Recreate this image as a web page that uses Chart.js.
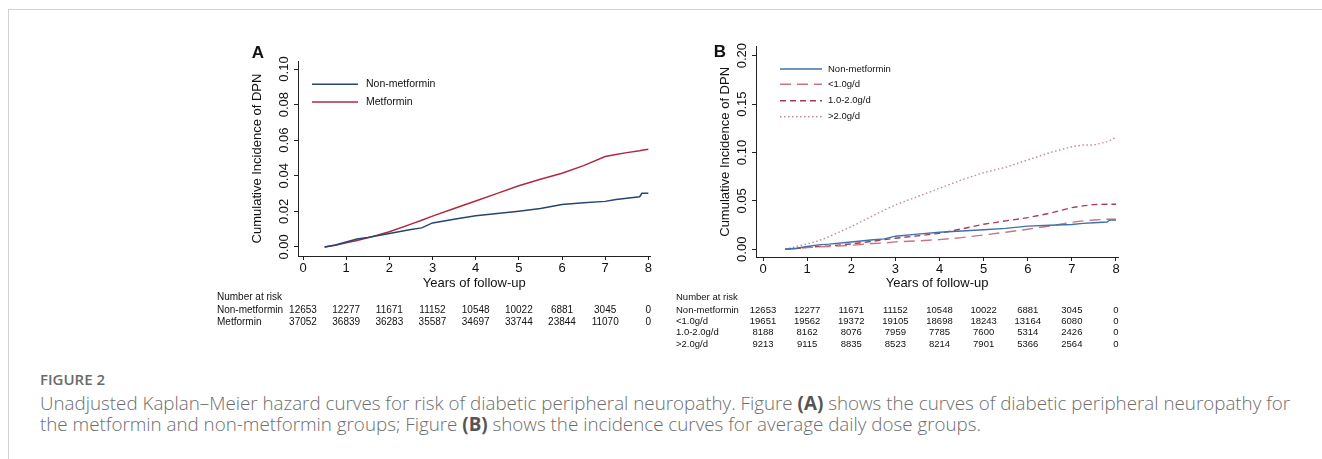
<!DOCTYPE html>
<html>
<head>
<meta charset="utf-8">
<script src="https://cdn.jsdelivr.net/npm/chart.js@4.4.1/dist/chart.umd.min.js"></script>
<style>
  body { margin: 0; background: #fff; width: 1322px; height: 459px; overflow: hidden; position: relative; }
  #frame { position: absolute; left: 8px; top: 9px; width: 1330px; height: 500px; border-left: 1px solid #d2d2d2; border-top: 1px solid #d2d2d2; }
  #panelA { position: absolute; left: 205px; top: 38px; }
  #panelB { position: absolute; left: 665px; top: 38px; }
  #figLabel { position: absolute; left: 40px; top: 370px; font: 600 15px "Open Sans", sans-serif; color: #6a6a6a; line-height: 18px; }
  #caption { position: absolute; left: 40px; top: 393px; font: 300 18.8px "Open Sans", sans-serif; color: #6d6d6d; line-height: 21px; white-space: nowrap; }
  #caption b { color: #555; font-weight: 700; }
</style>
</head>
<body>
<div id="frame"></div>
<canvas id="panelA" width="460" height="300"></canvas>
<canvas id="panelB" width="465" height="315"></canvas>
<div id="figLabel">FIGURE 2</div>
<div id="caption">Unadjusted Kaplan–Meier hazard curves for risk of diabetic peripheral neuropathy. Figure <b>(A)</b> shows the curves of diabetic peripheral neuropathy for<br>the metformin and non-metformin groups; Figure <b>(B)</b> shows the incidence curves for average daily dose groups.</div>
<script>
// follow-up time grid (years) shared by all curves
const timeYears = [0.5, 0.75, 1, 1.25, 1.5, 2, 2.5, 2.75, 3, 3.5, 4, 4.5, 5, 5.5, 6, 6.5, 7, 7.25, 7.5, 7.8, 7.85, 8];

// cumulative incidence
const nonMetformin = [0, 0.0011, 0.0028, 0.0045, 0.0053, 0.0075, 0.0098, 0.0107, 0.0135, 0.0156, 0.0175, 0.0188, 0.0201, 0.0216, 0.0239, 0.0248, 0.0256, 0.0267, 0.0274, 0.0282, 0.0301, 0.0301];
const metformin = [0, 0.0009, 0.0024, 0.0036, 0.0051, 0.0085, 0.0128, 0.015, 0.0173, 0.0216, 0.0258, 0.0301, 0.0344, 0.038, 0.0414, 0.0457, 0.0508, 0.052, 0.053, 0.054, 0.0543, 0.0549];
const doseLow = [0, 0.0007, 0.0017, 0.0024, 0.0028, 0.0041, 0.0059, 0.0065, 0.0076, 0.0086, 0.01, 0.012, 0.0148, 0.0176, 0.0207, 0.0241, 0.0279, 0.0293, 0.0303, 0.031, 0.031, 0.031];
const doseMid = [0, 0.0007, 0.0021, 0.0028, 0.0034, 0.0055, 0.0083, 0.01, 0.0114, 0.0138, 0.0165, 0.021, 0.0258, 0.0293, 0.0327, 0.0372, 0.043, 0.0448, 0.0461, 0.0465, 0.0465, 0.0465];
const doseHigh = [0, 0.0028, 0.0055, 0.0086, 0.0131, 0.0234, 0.0348, 0.0406, 0.0458, 0.0544, 0.063, 0.0716, 0.0792, 0.0847, 0.0923, 0.0998, 0.106, 0.1077, 0.1077, 0.1112, 0.1122, 0.1157];

const xTickValues = [0, 1, 2, 3, 4, 5, 6, 7, 8];
const yTicksA = [0, 0.02, 0.04, 0.06, 0.08, 0.10];
const yTicksB = [0, 0.05, 0.10, 0.15, 0.20];

// number at risk, one value per x tick
const riskNonMetformin = [12653, 12277, 11671, 11152, 10548, 10022, 6881, 3045, 0];
const riskMetformin = [37052, 36839, 36283, 35587, 34697, 33744, 23844, 11070, 0];
const riskLow = [19651, 19562, 19372, 19105, 18698, 18243, 13164, 6080, 0];
const riskMid = [8188, 8162, 8076, 7959, 7785, 7600, 5314, 2426, 0];
const riskHigh = [9213, 9115, 8835, 8523, 8214, 7901, 5366, 2564, 0];

const AXIS_COLOR = "#222";
const TEXT_COLOR = "#111";

function toPoints(values) {
  return timeYears.map((t, i) => ({ x: t, y: values[i] }));
}

function makeLine(label, values, color, dash, width) {
  return {
    label: label,
    data: toPoints(values),
    borderColor: color,
    borderDash: dash,
    borderWidth: width,
    pointRadius: 0,
    tension: 0,
    fill: false,
  };
}

// draws panel letter, rotated y labels, titles, inner legend and risk table
const kmDecor = {
  id: "kmDecor",
  afterDraw(chart, args, opts) {
    const ctx = chart.ctx;
    const xs = chart.scales.x;
    const ys = chart.scales.y;
    const area = chart.chartArea;
    ctx.save();
    ctx.fillStyle = TEXT_COLOR;
    ctx.textAlign = "center";
    ctx.textBaseline = "middle";

    ctx.font = "bold 17px Arial, 'Liberation Sans', sans-serif";
    ctx.fillText(opts.letter, opts.letterX, opts.letterY);

    ctx.font = opts.axisFont;
    opts.yTicks.forEach((v) => {
      ctx.save();
      ctx.translate(opts.yTickX, ys.getPixelForValue(v));
      ctx.rotate(-Math.PI / 2);
      ctx.fillText(v.toFixed(2), 0, 0);
      ctx.restore();
    });

    ctx.save();
    ctx.translate(opts.yTitleX, (area.top + area.bottom) / 2);
    ctx.rotate(-Math.PI / 2);
    ctx.fillText("Cumulative Incidence of DPN", 0, 0);
    ctx.restore();

    ctx.fillText("Years of follow-up", (area.left + area.right) / 2, opts.xTitleY);

    // legend inside the plot
    ctx.font = opts.legendFont;
    ctx.textAlign = "left";
    chart.data.datasets.forEach((ds, i) => {
      const y = opts.legendY[i];
      ctx.save();
      ctx.strokeStyle = ds.borderColor;
      ctx.lineWidth = ds.borderWidth;
      ctx.setLineDash(ds.borderDash || []);
      ctx.beginPath();
      ctx.moveTo(opts.legendX0, y);
      ctx.lineTo(opts.legendX1, y);
      ctx.stroke();
      ctx.restore();
      ctx.fillText(ds.label, opts.legendTextX, y);
    });

    // number at risk
    ctx.font = opts.riskFont;
    ctx.fillText("Number at risk", opts.riskLabelX, opts.riskTitleY);
    opts.riskRows.forEach((row, r) => {
      const y = opts.riskY[r];
      ctx.textAlign = "left";
      ctx.fillText(row.label, opts.riskLabelX, y);
      ctx.textAlign = "center";
      row.values.forEach((n, i) => {
        ctx.fillText(String(n), xs.getPixelForValue(xTickValues[i]), y);
      });
    });
    ctx.restore();
  },
};

function kmChart(canvasId, datasets, cfg) {
  const axisGrid = { drawOnChartArea: false, drawTicks: true, tickLength: 4, color: AXIS_COLOR, lineWidth: 1 };
  return new Chart(document.getElementById(canvasId), {
    type: "line",
    data: { datasets: datasets },
    options: {
      responsive: false,
      animation: false,
      layout: { padding: { left: 0, top: cfg.padTop, right: cfg.padRight, bottom: 0 } },
      plugins: { legend: { display: false }, tooltip: { enabled: false }, kmDecor: cfg.decor },
      scales: {
        x: {
          type: "linear",
          min: cfg.xMin,
          max: cfg.xMax,
          afterBuildTicks: (s) => { s.ticks = xTickValues.map((v) => ({ value: v })); },
          afterFit: (s) => { s.height = cfg.xHeight; },
          grid: axisGrid,
          border: { color: AXIS_COLOR, width: 1 },
          ticks: { color: TEXT_COLOR, font: { size: 13, family: "Arial, 'Liberation Sans', sans-serif" }, padding: 1, maxRotation: 0 },
        },
        y: {
          type: "linear",
          min: cfg.yMin,
          max: cfg.yMax,
          afterBuildTicks: (s) => { s.ticks = cfg.yTicks.map((v) => ({ value: v })); },
          afterFit: (s) => { s.width = cfg.yWidth; },
          grid: axisGrid,
          border: { color: AXIS_COLOR, width: 1 },
          ticks: { display: false },
        },
      },
    },
    plugins: [kmDecor],
  });
}

kmChart("panelA", [
  makeLine("Non-metformin", nonMetformin, "#24466f", [], 1.5),
  makeLine("Metformin", metformin, "#b02a3f", [], 1.5),
], {
  xMin: -0.116, xMax: 8.05, yMin: -0.0051, yMax: 0.1045,
  yTicks: yTicksA, padTop: 23, padRight: 14.5, yWidth: 93, xHeight: 82,
  decor: {
    letter: "A", letterX: 53, letterY: 15,
    yTicks: yTicksA, yTickX: 79, yTitleX: 52, xTitleY: 245,
    axisFont: "13px Arial, 'Liberation Sans', sans-serif",
    legendFont: "10.5px Arial, 'Liberation Sans', sans-serif",
    legendX0: 107, legendX1: 153, legendTextX: 161, legendY: [46.3, 64],
    riskFont: "10px Arial, 'Liberation Sans', sans-serif",
    riskLabelX: 12, riskTitleY: 259.3, riskY: [272.7, 284.7],
    riskRows: [
      { label: "Non-metformin", values: riskNonMetformin },
      { label: "Metformin", values: riskMetformin },
    ],
  },
});

kmChart("panelB", [
  makeLine("Non-metformin", nonMetformin, "#3f72a6", [], 1.4),
  makeLine("<1.0g/d", doseLow, "#c97483", [11, 6], 1.4),
  makeLine("1.0-2.0g/d", doseMid, "#a63c56", [6, 4], 1.4),
  makeLine(">2.0g/d", doseHigh, "#bf8d9c", [1.5, 2.5], 1.4),
], {
  xMin: -0.159, xMax: 8.05, yMin: -0.008, yMax: 0.2093,
  yTicks: yTicksB, padTop: 8.7, padRight: 11.8, yWidth: 91, xHeight: 96,
  decor: {
    letter: "B", letterX: 55, letterY: 14.7,
    yTicks: yTicksB, yTickX: 77.7, yTitleX: 60, xTitleY: 245,
    axisFont: "13px Arial, 'Liberation Sans', sans-serif",
    legendFont: "9.5px Arial, 'Liberation Sans', sans-serif",
    legendX0: 115, legendX1: 157, legendTextX: 163, legendY: [31, 46.3, 62.7, 78.7],
    riskFont: "9.5px Arial, 'Liberation Sans', sans-serif",
    riskLabelX: 11, riskTitleY: 259.3, riskY: [272, 283, 294.3, 306],
    riskRows: [
      { label: "Non-metformin", values: riskNonMetformin },
      { label: "<1.0g/d", values: riskLow },
      { label: "1.0-2.0g/d", values: riskMid },
      { label: ">2.0g/d", values: riskHigh },
    ],
  },
});
</script>
</body>
</html>
